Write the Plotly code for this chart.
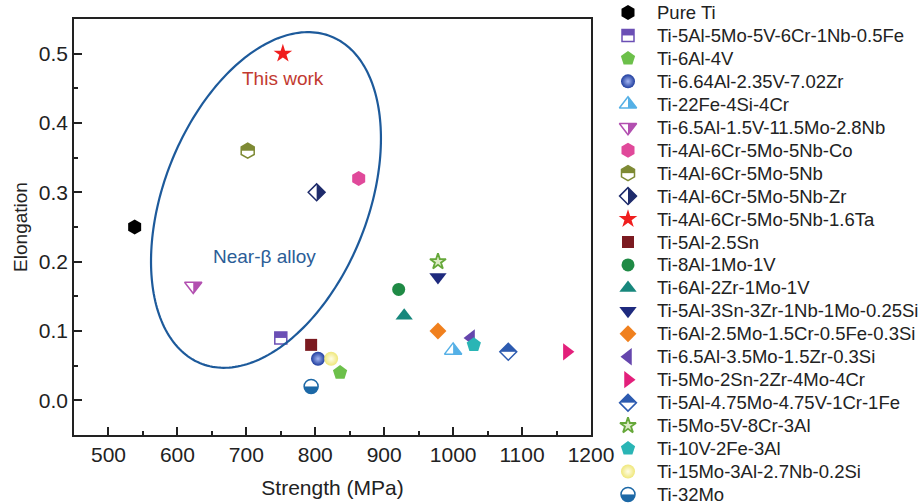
import numpy as np
import plotly.graph_objects as go

# ---- data -------------------------------------------------------------
alloys = [
    "Pure Ti",
    "Ti-5Al-5Mo-5V-6Cr-1Nb-0.5Fe",
    "Ti-6Al-4V",
    "Ti-6.64Al-2.35V-7.02Zr",
    "Ti-22Fe-4Si-4Cr",
    "Ti-6.5Al-1.5V-11.5Mo-2.8Nb",
    "Ti-4Al-6Cr-5Mo-5Nb-Co",
    "Ti-4Al-6Cr-5Mo-5Nb",
    "Ti-4Al-6Cr-5Mo-5Nb-Zr",
    "Ti-4Al-6Cr-5Mo-5Nb-1.6Ta",
    "Ti-5Al-2.5Sn",
    "Ti-8Al-1Mo-1V",
    "Ti-6Al-2Zr-1Mo-1V",
    "Ti-5Al-3Sn-3Zr-1Nb-1Mo-0.25Si",
    "Ti-6Al-2.5Mo-1.5Cr-0.5Fe-0.3Si",
    "Ti-6.5Al-3.5Mo-1.5Zr-0.3Si",
    "Ti-5Mo-2Sn-2Zr-4Mo-4Cr",
    "Ti-5Al-4.75Mo-4.75V-1Cr-1Fe",
    "Ti-5Mo-5V-8Cr-3Al",
    "Ti-10V-2Fe-3Al",
    "Ti-15Mo-3Al-2.7Nb-0.2Si",
    "Ti-32Mo",
]
strength = [538, 750, 836, 804, 1000, 623, 863, 702, 802, 753, 794,
            921, 929, 978, 978, 1026, 1165, 1080, 978, 1030, 823, 794]
elongation = [0.25, 0.09, 0.04, 0.06, 0.072, 0.165, 0.32, 0.36, 0.30, 0.50, 0.08,
              0.16, 0.122, 0.178, 0.10, 0.09, 0.07, 0.07, 0.20, 0.08, 0.06, 0.02]

x_ticks = [500, 600, 700, 800, 900, 1000, 1100, 1200]
y_ticks = [0.0, 0.1, 0.2, 0.3, 0.4, 0.5]

# ---- marker styles ----------------------------------------------------
STYLES = {
    "Pure Ti": dict(kind="solid", symbol="hexagon", size=15, color="#000000"),
    "Ti-5Al-5Mo-5V-6Cr-1Nb-0.5Fe": dict(kind="half", symbol="square", size=12, color="#6b4fb5", blank="down"),
    "Ti-6Al-4V": dict(kind="solid", symbol="pentagon", size=15, color="#6cc04a"),
    "Ti-6.64Al-2.35V-7.02Zr": dict(kind="ball", symbol="circle", size=14, color="#1f3d9e", glow="#a4b6f2"),
    "Ti-22Fe-4Si-4Cr": dict(kind="half", symbol="triangle-up", size=15, color="#55b0e6", blank="left"),
    "Ti-6.5Al-1.5V-11.5Mo-2.8Nb": dict(kind="half", symbol="triangle-down", size=15, color="#b24fb0", blank="left"),
    "Ti-4Al-6Cr-5Mo-5Nb-Co": dict(kind="solid", symbol="hexagon", size=15, color="#e0499a"),
    "Ti-4Al-6Cr-5Mo-5Nb": dict(kind="half", symbol="hexagon", size=15, color="#7e8a34", blank="down"),
    "Ti-4Al-6Cr-5Mo-5Nb-Zr": dict(kind="half", symbol="diamond", size=13, color="#1e2b6b", blank="left"),
    "Ti-4Al-6Cr-5Mo-5Nb-1.6Ta": dict(kind="solid", symbol="star", size=14, color="#f01e1e"),
    "Ti-5Al-2.5Sn": dict(kind="solid", symbol="square", size=12, color="#7b1a20"),
    "Ti-8Al-1Mo-1V": dict(kind="solid", symbol="circle", size=13, color="#1f8a45"),
    "Ti-6Al-2Zr-1Mo-1V": dict(kind="solid", symbol="triangle-up", size=15, color="#17877c"),
    "Ti-5Al-3Sn-3Zr-1Nb-1Mo-0.25Si": dict(kind="solid", symbol="triangle-down", size=15, color="#1e2a7e"),
    "Ti-6Al-2.5Mo-1.5Cr-0.5Fe-0.3Si": dict(kind="solid", symbol="diamond", size=13, color="#f0801e"),
    "Ti-6.5Al-3.5Mo-1.5Zr-0.3Si": dict(kind="solid", symbol="triangle-left", size=15, color="#6546ad"),
    "Ti-5Mo-2Sn-2Zr-4Mo-4Cr": dict(kind="solid", symbol="triangle-right", size=15, color="#e31f7b"),
    "Ti-5Al-4.75Mo-4.75V-1Cr-1Fe": dict(kind="half", symbol="diamond", size=13, color="#2d5bb0", blank="down"),
    "Ti-5Mo-5V-8Cr-3Al": dict(kind="hollow", symbol="star", size=12, color="#66a83a", fill="#dcebc6"),
    "Ti-10V-2Fe-3Al": dict(kind="solid", symbol="pentagon", size=15, color="#2ab5b5"),
    "Ti-15Mo-3Al-2.7Nb-0.2Si": dict(kind="ball", symbol="circle", size=14, color="#efe77a", glow="#fffde6"),
    "Ti-32Mo": dict(kind="half", symbol="circle", size=14, color="#1c68a6", blank="up"),
}

# standoff pushes a marker opposite to its angle, so each mask side maps
# to the angle that points away from it
MASK_ANGLE = {"up": 180, "right": 270, "down": 0, "left": 90}


def marker_layers(st):
    """Return the stacked marker dicts that make up one symbol."""
    s, c, z = st["symbol"], st["color"], st["size"]
    if st["kind"] == "solid":
        return [dict(symbol=s, size=z, color=c, line=dict(width=0))]
    if st["kind"] == "ball":
        return [dict(symbol=s, size=z, color=c, line=dict(width=0),
                     gradient=dict(type="radial", color=st["glow"]))]
    if st["kind"] == "hollow":
        return [dict(symbol=s, size=z, color=st["fill"], line=dict(color=c, width=1.8))]
    # half-filled: full shape, white mask over one half, outline on top
    cover = 1.4 * z
    return [
        dict(symbol=s, size=z, color=c, line=dict(width=0)),
        dict(symbol="square", size=cover, color="#ffffff", line=dict(width=0),
             angle=MASK_ANGLE[st["blank"]], standoff=cover / 2),
        dict(symbol=s + "-open", size=z, color=c, line=dict(color=c, width=1.5)),
    ]


# ---- geometry ---------------------------------------------------------
W, H = 919, 504
PLOT_L, PLOT_R, PLOT_T, PLOT_B = 74, 591, 19, 435
X_RANGE = [450, 1200]
Y_RANGE = [-0.05, 0.55]
FONT = "Liberation Sans, Arial, sans-serif"
INK = "#222222"

LEG_MARK_X, LEG_TEXT_X = 628, 655
LEG_TOP, LEG_STEP = 12.5, 22.95

fig = go.Figure()

order = [i for i, a in enumerate(alloys) if STYLES[a]["kind"] == "half"] + \
        [i for i, a in enumerate(alloys) if STYLES[a]["kind"] != "half"]

for i in order:
    name = alloys[i]
    for mk in marker_layers(STYLES[name]):
        fig.add_trace(go.Scatter(x=[strength[i]], y=[elongation[i]], mode="markers",
                                 marker=mk, name=name, showlegend=False,
                                 hoverinfo="skip", xaxis="x", yaxis="y"))
        fig.add_trace(go.Scatter(x=[LEG_MARK_X], y=[LEG_TOP + LEG_STEP * i], mode="markers",
                                 marker=mk, name=name, showlegend=False,
                                 hoverinfo="skip", xaxis="x2", yaxis="y2"))

# legend labels
annotations = []
for i, name in enumerate(alloys):
    annotations.append(dict(x=LEG_TEXT_X, y=LEG_TOP + LEG_STEP * i, xref="x2", yref="y2",
                            text=name, showarrow=False, xanchor="left", yanchor="middle",
                            font=dict(family=FONT, size=18.5, color=INK)))

annotations.append(dict(x=753, y=0.4635, xref="x", yref="y", text="This work",
                        showarrow=False, font=dict(family=FONT, size=19, color="#c23a30")))
annotations.append(dict(x=726, y=0.207, xref="x", yref="y", text="Near-β alloy",
                        showarrow=False, font=dict(family=FONT, size=19, color="#2b5d97")))

# near-beta ellipse, defined in screen pixels around a data-space centre
px_x = (X_RANGE[1] - X_RANGE[0]) / (PLOT_R - PLOT_L)
px_y = (Y_RANGE[1] - Y_RANGE[0]) / (PLOT_B - PLOT_T)
cx, cy, a_px, b_px, tilt = 728.5, 0.289, 176, 102, np.deg2rad(68.3)
t = np.linspace(0, 2 * np.pi, 240)
ux, uy = a_px * np.cos(t), b_px * np.sin(t)
ex = cx + (ux * np.cos(tilt) - uy * np.sin(tilt)) * px_x
ey = cy + (ux * np.sin(tilt) + uy * np.cos(tilt)) * px_y
path = "M " + " L ".join(f"{x:.3f},{y:.5f}" for x, y in zip(ex, ey)) + " Z"

fig.update_layout(
    width=W, height=H,
    margin=dict(l=0, r=0, t=0, b=0),
    paper_bgcolor="white", plot_bgcolor="rgba(0,0,0,0)",
    font=dict(family=FONT, color=INK),
    showlegend=False,
    shapes=[dict(type="path", path=path, xref="x", yref="y",
                 line=dict(color="#1d5a9b", width=2.2), layer="above")],
    annotations=annotations,
    xaxis=dict(domain=[PLOT_L / W, PLOT_R / W], range=X_RANGE, anchor="y",
               tickvals=x_ticks, ticks="inside", ticklen=8, tickwidth=1.5, tickcolor=INK,
               minor=dict(dtick=50, tick0=450, ticks="inside", ticklen=4, tickwidth=1.5, tickcolor=INK),
               showline=True, linecolor=INK, linewidth=1.5, mirror=True,
               showgrid=False, zeroline=False, automargin=False,
               tickfont=dict(family=FONT, size=21, color=INK),
               title=dict(text="Strength (MPa)", font=dict(family=FONT, size=21, color=INK), standoff=15)),
    yaxis=dict(domain=[1 - PLOT_B / H, 1 - PLOT_T / H], range=Y_RANGE, anchor="x",
               tickvals=y_ticks, tickformat=".1f", ticks="inside", ticklen=8, tickwidth=1.5, tickcolor=INK,
               minor=dict(dtick=0.05, tick0=0, ticks="inside", ticklen=4, tickwidth=1.5, tickcolor=INK),
               showline=True, linecolor=INK, linewidth=1.5, mirror=True,
               showgrid=False, zeroline=False, automargin=False,
               tickfont=dict(family=FONT, size=21, color=INK),
               title=dict(text="Elongation", font=dict(family=FONT, size=19, color=INK), standoff=6)),
    xaxis2=dict(domain=[0, 1], range=[0, W], anchor="y2", visible=False, fixedrange=True),
    yaxis2=dict(domain=[0, 1], range=[H, 0], anchor="x2", visible=False, fixedrange=True),
)

fig.write_html("out.html")
